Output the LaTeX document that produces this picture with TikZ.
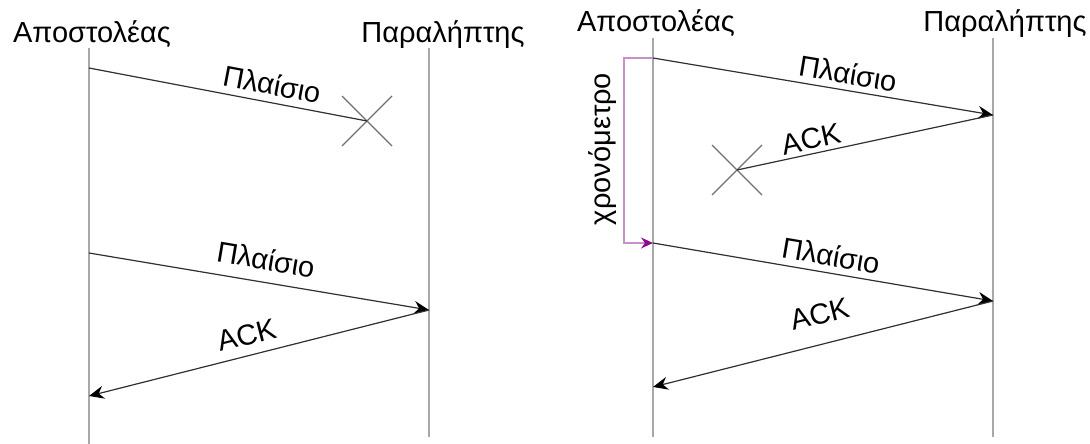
\documentclass[tikz,border=0pt]{standalone}
\usepackage{fontspec}
\setmainfont{Liberation Sans}
\usetikzlibrary{arrows.meta,calc}
\definecolor{lifegray}{HTML}{A8A8A8}
\definecolor{crossgray}{HTML}{707070}
\definecolor{msgcol}{HTML}{303030}
\definecolor{timerline}{HTML}{C890C8}
\definecolor{timerhead}{HTML}{8A0A8A}
\begin{document}
\begin{tikzpicture}[x=1pt,y=-1pt,
  lifeline/.style={draw=lifegray,line width=2.2pt},
  msg/.style={draw=msgcol,line width=1.2pt,-{Stealth[length=15pt,width=13pt,inset=5pt,color=black]}},
  lostmsg/.style={draw=msgcol,line width=1.2pt},
  crossmark/.style={draw=crossgray,line width=1.3pt},
  actor/.style={anchor=base,inner sep=0pt,font=\fontsize{29}{34}\selectfont},
  lbl/.style={inner sep=0pt,font=\fontsize{29}{34}\selectfont},
  timer/.style={draw=timerline,line width=1.3pt,-{Stealth[length=12pt,width=11pt,inset=4pt,color=timerhead]}}]
\useasboundingbox (0,0) rectangle (1090,444);
% ---------- left panel ----------
\node[actor] (sndL) at (92,43) {Αποστολέας};
\node[actor] (rcvL) at (443,43) {Παραλήπτης};
\coordinate (sLtop) at (89,48);
\coordinate (sLbot) at (89,444);
\coordinate (rLtop) at (429,48);
\coordinate (rLbot) at (429,437);
\draw[lifeline] (sLtop) -- (sLbot);
\draw[lifeline] (rLtop) -- (rLbot);
\coordinate (a1s) at (89,68);
\coordinate (x1) at (367,121);
\coordinate (a2s) at (89,253);
\coordinate (a2e) at (429,310);
\coordinate (a3e) at (89,396);
\draw[crossmark] ($(x1)+(-25,-25)$) -- ($(x1)+(25,25)$);
\draw[crossmark] ($(x1)+(-25,25)$) -- ($(x1)+(25,-25)$);
\draw[lostmsg] (a1s) -- (x1);
\draw[msg] (a2s) -- (a2e);
\draw[msg] (a2e) -- (a3e);
\node[lbl,rotate=-10.8] (l1) at (272,84) {Πλαίσιο};
\node[lbl,rotate=-9.5] (l2) at (266,259) {Πλαίσιο};
\node[lbl,rotate=14.2] (l3) at (247,335) {ACK};
% ---------- right panel ----------
\node[actor] (sndR) at (656,32) {Αποστολέας};
\node[actor] (rcvR) at (1005,32) {Παραλήπτης};
\coordinate (sRtop) at (653,38);
\coordinate (sRbot) at (653,437);
\coordinate (rRtop) at (993,38);
\coordinate (rRbot) at (993,437);
\draw[lifeline] (sRtop) -- (sRbot);
\draw[lifeline] (rRtop) -- (rRbot);
\coordinate (b1s) at (653,58);
\coordinate (b1e) at (993,115);
\coordinate (x2) at (737,170);
\coordinate (b2s) at (653,243);
\coordinate (b2e) at (993,301);
\coordinate (b3e) at (653,387);
\coordinate (tc) at (624,58);
\draw[timer] (b1s) -- (tc) |- (b2s);
\draw[crossmark] ($(x2)+(-25,-25)$) -- ($(x2)+(25,25)$);
\draw[crossmark] ($(x2)+(-25,25)$) -- ($(x2)+(25,-25)$);
\draw[msg] (b1s) -- (b1e);
\draw[lostmsg] (b1e) -- (x2);
\draw[msg] (b2s) -- (b2e);
\draw[msg] (b2e) -- (b3e);
\node[lbl,rotate=-9.5] (r1) at (848,73) {Πλαίσιο};
\node[lbl,rotate=12.1] (r2) at (811,139) {ACK};
\node[lbl,rotate=-9.7] (r3) at (831,255) {Πλαίσιο};
\node[lbl,rotate=14.2] (r4) at (820,314) {ACK};
\node[lbl,rotate=90] (chrono) at (603,149) {χρονόμετρο};
\end{tikzpicture}
\end{document}
